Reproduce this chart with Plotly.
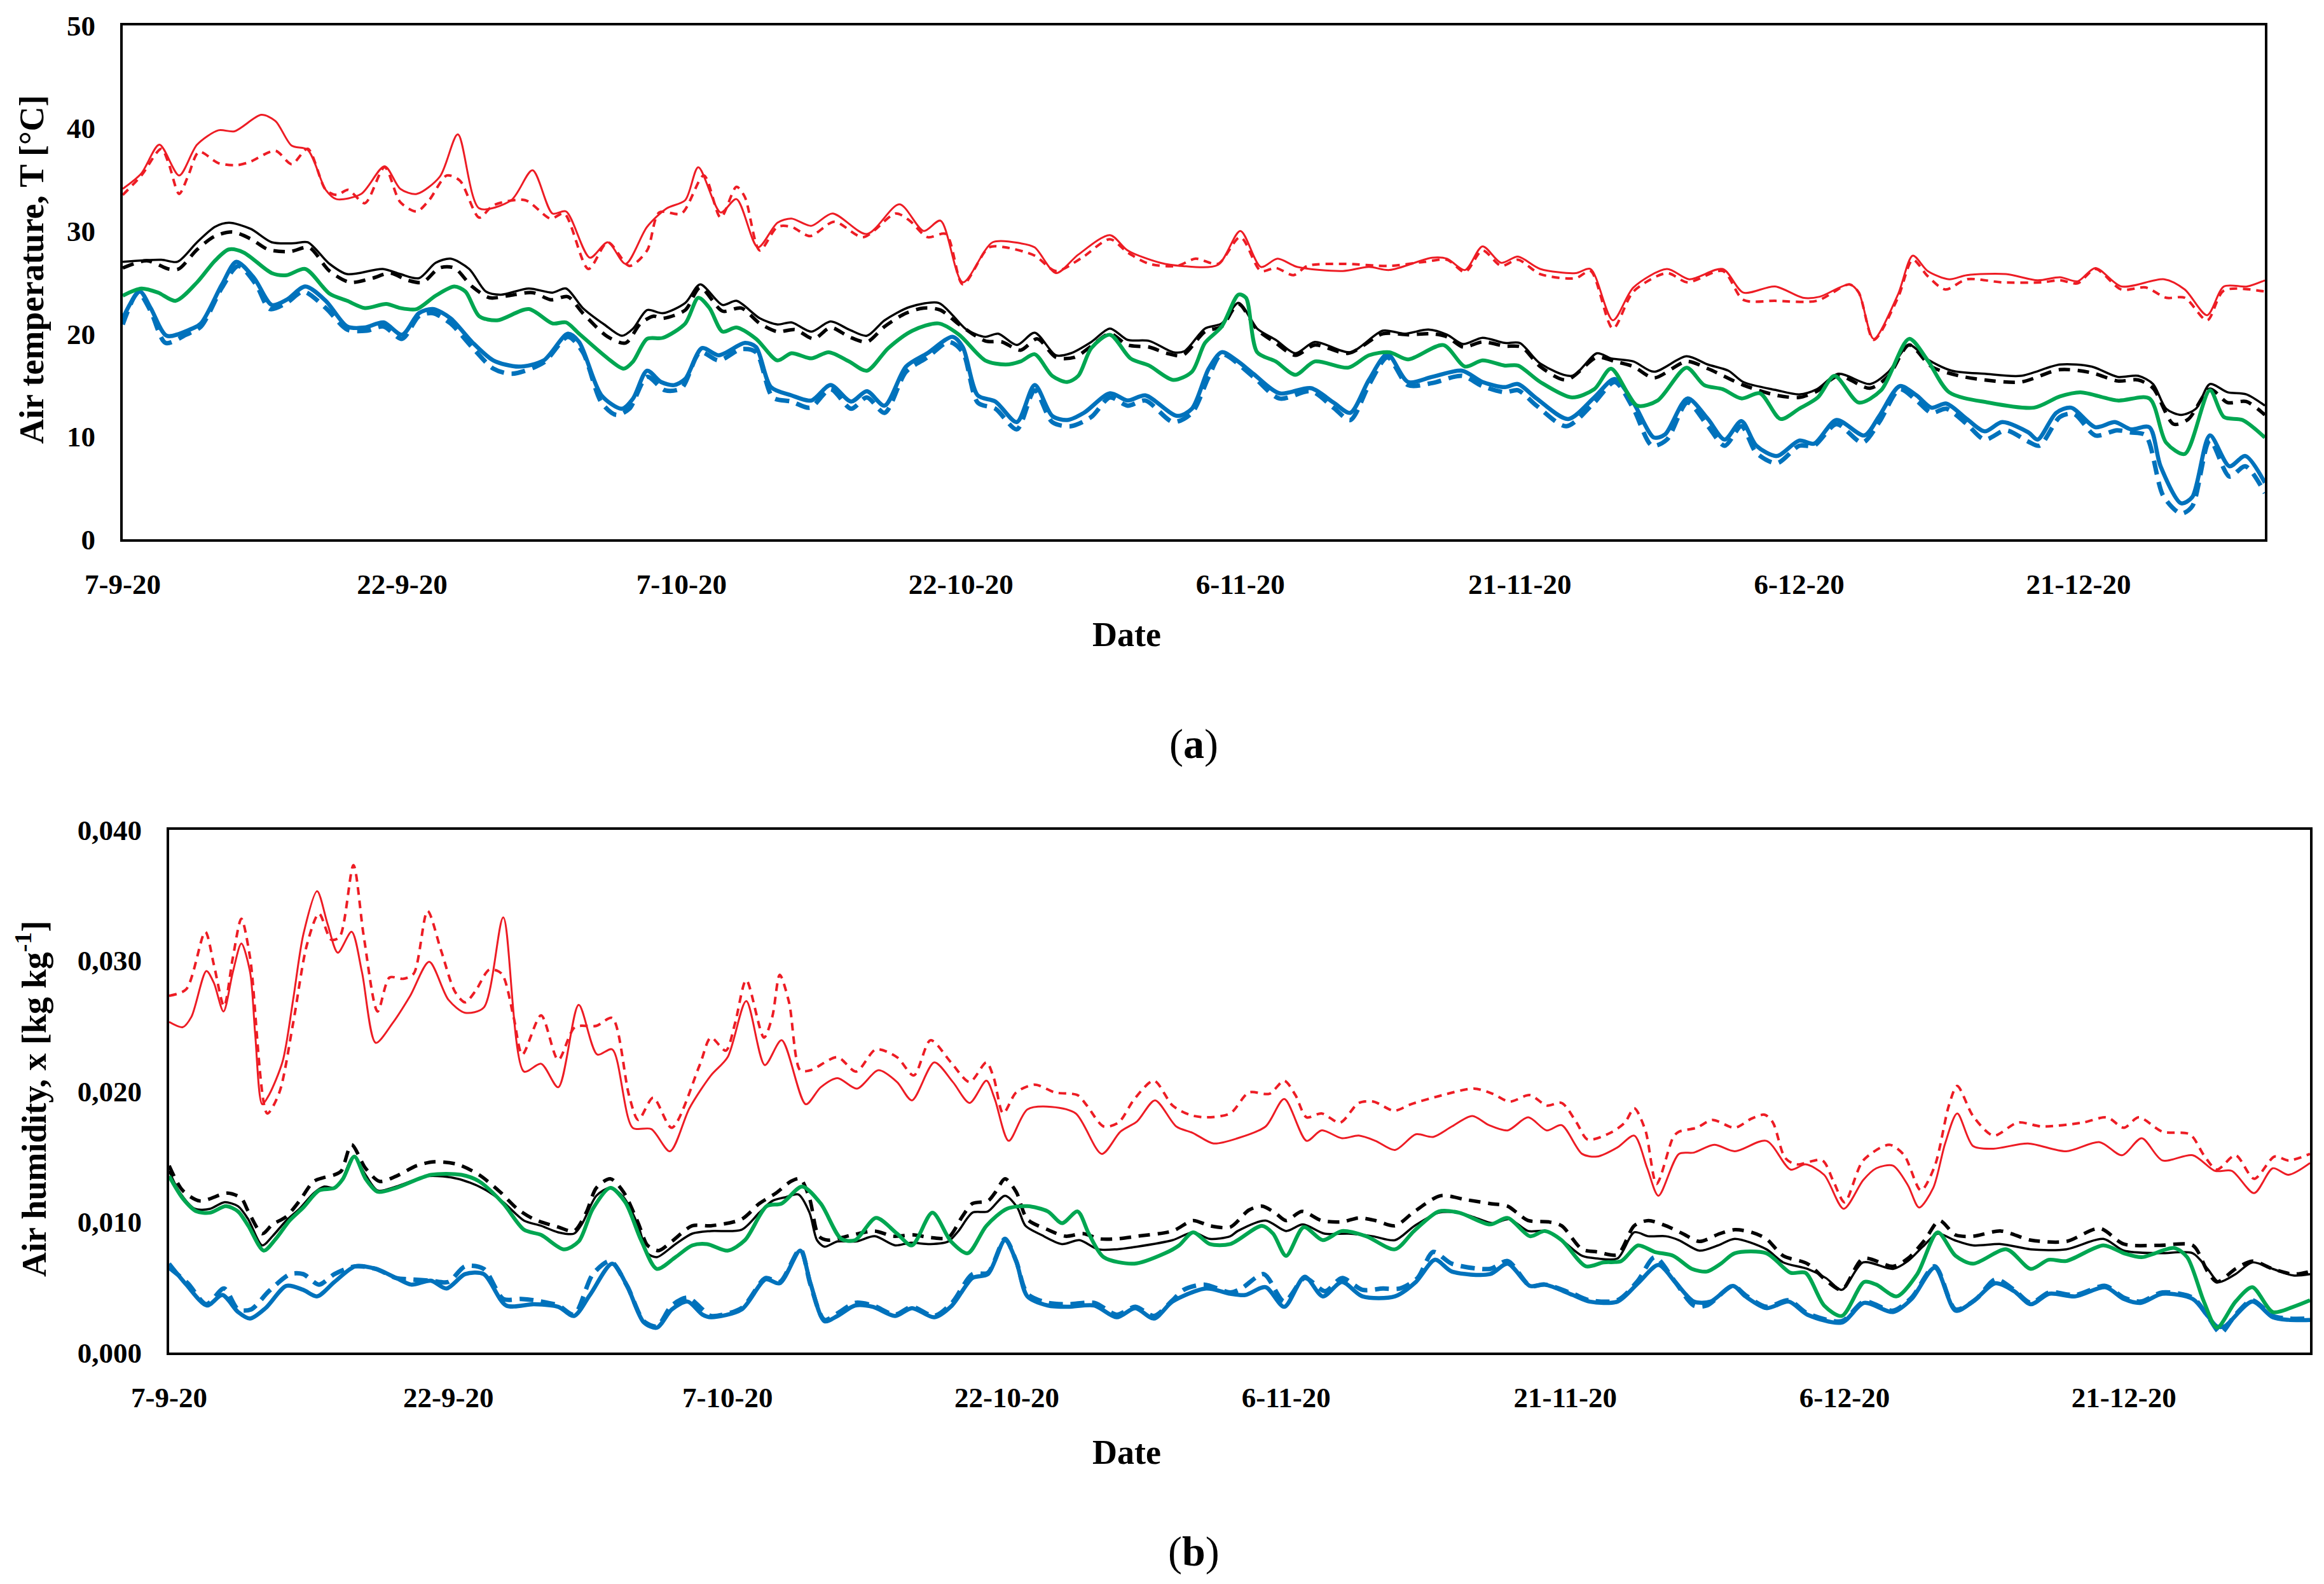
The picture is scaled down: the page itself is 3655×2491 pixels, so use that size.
import pandas as pd
import plotly.graph_objects as go

START = pd.Timestamp("2020-09-07")
END_DAY = 115
TICK_DAYS = [0, 15, 30, 45, 60, 75, 90, 105]
TICK_LABELS = ["7-9-20", "22-9-20", "7-10-20", "22-10-20", "6-11-20", "21-11-20", "6-12-20", "21-12-20"]
T_TICKS = [0, 10, 20, 30, 40, 50]
H_TICKS = [0.0, 0.01, 0.02, 0.03, 0.04]
H_TICK_LABELS = ["0,000", "0,010", "0,020", "0,030", "0,040"]

# (a) air temperature [degC]: (days since 7-9-20, value)
T_RED_SOLID = [
    (0, 34.1), (1.0, 35.6), (1.97, 38.4), (3.03, 35.4), (3.99, 38.4), (5.14, 39.8), (6.0, 39.7),
    (7.44, 41.3), (8.2, 40.7), (9.07, 38.3), (9.93, 37.9), (10.9, 34.0), (11.47, 33.1), (12.8, 33.6),
    (14.06, 36.3), (14.9, 34.1), (15.78, 33.6), (17.03, 35.3), (17.99, 39.4), (19.14, 32.2),
    (20.86, 33.0), (22.0, 35.9), (23.07, 31.7), (23.8, 31.9), (25.08, 27.4), (26.04, 28.9),
    (27.0, 26.8), (28.15, 30.4), (29.2, 32.2), (30.2, 33.0), (30.9, 36.2), (32.1, 31.8),
    (32.95, 33.1), (34.1, 28.4), (35.15, 30.8), (35.9, 31.2), (36.97, 30.5), (38.1, 31.7),
    (39.95, 29.7), (41.7, 32.6), (43.0, 30.0), (43.9, 31.0), (45.1, 25.0), (46.7, 28.9),
    (48.2, 28.8), (48.96, 28.4), (50.1, 25.9), (51.3, 27.7), (53.0, 29.6), (53.95, 28.1),
    (55.7, 26.9), (56.8, 26.6), (58.8, 26.7), (60.0, 30.0), (61.1, 26.5), (62.0, 27.3),
    (63.05, 26.5), (65.5, 26.1), (66.9, 26.5), (68.0, 26.2), (70.3, 27.4), (71.1, 27.3),
    (72.06, 26.2), (73.0, 28.5), (74.0, 26.9), (74.9, 27.5), (76.1, 26.3), (78.0, 25.9),
    (78.8, 26.3), (80.0, 21.3), (81.1, 24.5), (82.9, 26.3), (84.1, 25.3), (85.9, 26.3),
    (87.0, 24.0), (88.7, 24.6), (90.2, 23.5), (91.1, 23.6), (92.7, 24.8), (93.2, 24.0),
    (94.0, 19.5), (95.3, 23.8), (96.1, 27.6), (96.9, 26.1), (98.05, 25.3), (99.0, 25.7),
    (101.1, 25.8), (102.8, 25.2), (104.0, 25.5), (104.95, 25.1), (105.9, 26.4), (107.3, 24.6),
    (109.6, 25.3), (110.7, 24.3), (111.9, 21.8), (112.8, 24.6), (114.05, 24.6), (115.0, 25.2),
]
T_RED_DASH = [
    (0, 33.5), (1.0, 35.4), (2.07, 38.0), (2.46, 36.6), (3.03, 33.6), (3.5, 35.3), (4.1, 37.7),
    (5.14, 36.6), (6.1, 36.4), (6.8, 36.7), (8.2, 37.8), (9.07, 36.5), (9.93, 38.0), (10.9, 34.0),
    (11.5, 33.5), (12.1, 34.0), (13.0, 32.7), (14.06, 36.2), (14.9, 32.8), (15.78, 31.9),
    (16.45, 33.0), (17.4, 35.4), (18.1, 34.9), (19.14, 31.3), (19.9, 32.5), (21.6, 33.0),
    (22.97, 31.2), (23.7, 31.7), (25.0, 26.3), (26.04, 28.9), (27.2, 26.6), (28.15, 28.1),
    (28.8, 31.8), (30.0, 31.7), (31.2, 35.4), (32.1, 31.3), (32.95, 34.3), (33.4, 33.3),
    (34.2, 28.1), (35.15, 30.4), (35.9, 30.4), (36.9, 29.5), (38.2, 30.9), (39.75, 29.4),
    (41.5, 31.7), (42.25, 31.0), (43.2, 29.4), (44.2, 29.7), (45.1, 24.8), (46.5, 28.4),
    (47.4, 28.4), (48.96, 27.6), (50.1, 26.1), (51.5, 27.4), (53.0, 29.2), (53.95, 27.9),
    (55.1, 26.8), (56.6, 26.6), (57.6, 27.3), (58.8, 26.8), (60.0, 29.4), (61.1, 26.1),
    (61.9, 26.4), (62.85, 25.7), (63.6, 26.6), (65.5, 26.8), (68.0, 26.6), (69.9, 27.0),
    (71.1, 27.2), (72.06, 26.0), (73.0, 28.1), (74.0, 26.6), (74.9, 27.2), (76.1, 25.8),
    (78.0, 25.4), (78.8, 26.1), (80.0, 20.5), (81.1, 24.1), (82.9, 25.9), (84.0, 25.0),
    (85.9, 26.1), (87.0, 23.3), (88.7, 23.2), (90.95, 23.2), (92.7, 24.8), (93.2, 24.0),
    (94.0, 19.4), (95.3, 23.5), (96.1, 27.2), (96.9, 25.6), (97.85, 24.3), (99.0, 25.3),
    (100.9, 25.0), (103.0, 25.0), (104.0, 25.2), (104.95, 24.9), (105.9, 26.3), (107.3, 24.3),
    (108.6, 24.5), (109.7, 23.5), (110.7, 23.5), (111.9, 21.3), (112.8, 24.2), (115.0, 24.1),
]
T_BLACK_SOLID = [
    (0, 27.0), (2.07, 27.2), (2.94, 27.0), (3.99, 28.9), (4.95, 30.4), (5.7, 30.8), (6.87, 30.2),
    (8.0, 28.9), (9.2, 28.8), (9.93, 28.9), (11.1, 26.8), (12.05, 25.8), (13.96, 26.3),
    (14.9, 25.8), (15.9, 25.4), (16.8, 26.9), (17.6, 27.3), (18.6, 26.3), (19.5, 24.1),
    (20.3, 23.8), (21.8, 24.4), (23.07, 24.0), (23.8, 24.4), (24.7, 22.5), (25.85, 20.9),
    (26.8, 19.8), (27.4, 20.5), (28.15, 22.3), (29.0, 22.0), (30.2, 23.0), (31.0, 24.8),
    (32.2, 22.8), (32.95, 23.2), (34.2, 21.5), (35.15, 20.9), (35.9, 21.1), (36.97, 20.2),
    (38.0, 21.2), (39.0, 20.4), (39.95, 19.8), (40.9, 21.3), (42.25, 22.6), (43.8, 23.0),
    (44.55, 21.8), (45.3, 20.4), (46.3, 19.7), (47.0, 20.0), (48.0, 18.9), (48.96, 20.1),
    (50.1, 17.9), (50.9, 18.1), (52.0, 19.2), (53.0, 20.5), (53.95, 19.4), (55.1, 19.3),
    (56.4, 18.2), (57.0, 18.3), (58.1, 20.5), (59.0, 21.0), (59.9, 23.0), (60.9, 20.5),
    (61.9, 19.4), (62.95, 18.1), (64.0, 19.2), (65.9, 18.2), (67.65, 20.3), (68.8, 20.0),
    (70.1, 20.4), (71.1, 19.9), (71.96, 19.0), (73.0, 19.6), (74.2, 19.1), (75.0, 19.1),
    (76.1, 17.1), (77.8, 15.9), (79.15, 18.1), (79.9, 17.6), (81.1, 17.3), (82.2, 16.3),
    (83.95, 17.8), (85.1, 17.0), (86.2, 16.4), (87.0, 15.3), (88.8, 14.5), (90.0, 14.1),
    (90.95, 14.6), (92.1, 16.1), (93.8, 15.1), (94.8, 16.3), (95.9, 18.9), (96.9, 17.5),
    (98.2, 16.4), (99.96, 16.1), (101.9, 15.9), (104.0, 17.0), (105.7, 16.8), (107.1, 15.8),
    (108.2, 15.9), (109.0, 15.1), (109.7, 12.7), (110.5, 12.1), (111.3, 12.7), (112.05, 15.1),
    (113.0, 14.3), (114.0, 14.1), (115.0, 13.0),
]
T_BLACK_DASH = [
    (0, 26.4), (1.3, 27.1), (2.46, 26.3), (3.0, 26.3), (4.0, 28.2), (4.95, 29.5), (5.9, 29.9),
    (6.9, 29.2), (7.8, 28.2), (9.0, 28.0), (10.0, 28.4), (11.1, 26.1), (12.2, 25.0), (13.4, 25.4),
    (14.35, 25.9), (15.3, 25.2), (16.1, 25.0), (17.0, 26.4), (17.8, 26.4), (18.75, 24.6),
    (19.7, 23.5), (20.7, 23.7), (22.0, 24.0), (23.0, 23.3), (23.9, 23.6), (24.7, 22.0),
    (26.04, 19.7), (27.0, 19.1), (27.8, 21.0), (28.5, 21.7), (29.0, 21.5), (30.2, 22.3),
    (31.0, 24.5), (32.2, 22.2), (33.2, 22.5), (34.2, 21.0), (35.15, 20.2), (36.1, 20.4),
    (37.1, 19.5), (38.0, 20.6), (39.0, 19.7), (39.95, 19.2), (40.9, 20.7), (42.05, 22.0),
    (43.0, 22.5), (43.9, 22.3), (44.9, 20.9), (46.3, 19.3), (47.2, 19.2), (48.2, 18.4),
    (49.1, 19.5), (50.1, 17.7), (51.1, 17.7), (52.0, 18.8), (53.0, 20.0), (53.95, 18.9),
    (55.1, 18.7), (56.05, 18.1), (56.9, 17.9), (58.1, 20.2), (59.0, 20.7), (59.9, 22.9),
    (60.9, 20.4), (61.9, 19.1), (62.95, 17.9), (64.0, 18.9), (65.8, 18.1), (67.65, 20.0),
    (69.0, 19.9), (70.3, 20.0), (71.1, 19.7), (71.96, 18.7), (73.0, 19.2), (74.2, 18.8),
    (75.1, 18.7), (76.1, 16.8), (77.5, 15.5), (79.15, 17.7), (80.1, 17.3), (81.1, 16.8),
    (82.2, 15.7), (83.95, 17.3), (85.1, 16.6), (87.0, 15.0), (88.8, 14.0), (90.0, 13.8),
    (90.95, 14.4), (92.1, 15.9), (93.8, 14.7), (94.8, 15.9), (95.9, 18.9), (97.1, 16.8),
    (98.6, 15.9), (99.96, 15.5), (101.9, 15.3), (104.0, 16.5), (105.7, 16.2), (107.1, 15.4),
    (108.2, 15.5), (109.0, 14.7), (110.1, 11.2), (110.9, 11.7), (112.05, 14.6), (113.0, 13.3),
    (114.0, 13.4), (115.0, 12.1),
]
T_GREEN = [
    (0, 23.7), (1.0, 24.4), (1.9, 24.0), (2.84, 23.2), (3.99, 25.0), (4.95, 27.1), (5.7, 28.2),
    (6.5, 27.9), (8.0, 25.9), (8.8, 25.7), (9.8, 26.3), (11.1, 23.9), (12.05, 23.2), (13.0, 22.5),
    (14.15, 22.9), (14.9, 22.5), (15.78, 22.4), (16.8, 23.7), (17.8, 24.6), (18.4, 24.1),
    (19.14, 21.7), (20.1, 21.3), (21.8, 22.4), (23.07, 21.0), (23.8, 21.1), (24.5, 20.0),
    (26.04, 17.6), (26.9, 16.6), (27.4, 17.3), (28.15, 19.5), (29.0, 19.6), (30.2, 21.0),
    (30.9, 23.5), (31.5, 22.5), (32.2, 20.2), (32.95, 20.6), (34.0, 19.5), (35.15, 17.4),
    (35.9, 18.1), (36.97, 17.6), (37.9, 18.2), (39.0, 17.3), (39.95, 16.4), (41.1, 18.6),
    (42.4, 20.3), (43.8, 21.0), (44.9, 19.9), (46.3, 17.4), (47.4, 17.0), (48.2, 17.3),
    (48.96, 18.0), (49.9, 15.9), (50.7, 15.3), (51.3, 15.9), (52.0, 18.6), (53.0, 19.9),
    (54.1, 17.6), (55.1, 16.9), (56.4, 15.5), (57.4, 16.3), (58.1, 19.1), (59.0, 20.7),
    (59.9, 23.8), (60.3, 23.5), (60.9, 18.2), (61.9, 17.3), (62.95, 16.0), (64.0, 17.3),
    (65.8, 16.7), (66.9, 17.9), (68.0, 18.2), (69.0, 17.5), (70.9, 18.9), (72.06, 16.8),
    (73.0, 17.4), (74.2, 16.9), (74.9, 16.9), (76.1, 15.3), (77.8, 13.8), (79.0, 14.6),
    (79.9, 16.6), (81.3, 13.0), (82.4, 13.5), (83.95, 16.7), (84.9, 15.0), (85.9, 14.6),
    (86.9, 13.7), (87.9, 14.2), (89.0, 11.7), (90.0, 12.7), (91.0, 13.8), (91.9, 15.9),
    (93.2, 13.3), (94.4, 14.5), (95.9, 19.5), (96.9, 17.4), (98.05, 14.3), (100.15, 13.3),
    (102.6, 12.8), (104.0, 13.9), (105.1, 14.3), (107.1, 13.5), (108.8, 13.7), (109.7, 9.4),
    (110.7, 8.3), (112.05, 14.5), (112.8, 11.9), (113.8, 11.6), (115.0, 9.9),
]
T_BLUE_SOLID = [
    (0, 21.5), (0.92, 24.1), (1.5, 22.5), (2.36, 19.8), (3.6, 20.4), (4.2, 21.0), (5.33, 24.8),
    (6.1, 27.0), (7.06, 25.4), (8.0, 22.8), (8.8, 23.3), (9.8, 24.6), (10.9, 23.2), (12.05, 20.7),
    (13.0, 20.6), (14.0, 21.1), (15.0, 19.9), (15.9, 22.0), (16.65, 22.4), (17.6, 21.5),
    (18.75, 19.2), (19.9, 17.4), (21.25, 16.8), (22.6, 17.4), (23.9, 20.0), (24.5, 19.2),
    (25.7, 14.0), (26.8, 12.7), (27.4, 13.7), (28.15, 16.4), (28.9, 15.3), (29.6, 15.0),
    (30.2, 15.6), (31.1, 18.6), (32.0, 17.9), (33.4, 19.1), (34.0, 18.7), (34.8, 14.8),
    (35.9, 14.0), (36.97, 13.5), (38.0, 15.0), (39.1, 13.4), (39.95, 14.4), (40.9, 13.0),
    (42.05, 16.8), (43.2, 18.1), (44.55, 19.7), (45.1, 18.7), (45.9, 14.0), (46.85, 13.4),
    (48.0, 11.4), (48.96, 15.0), (49.9, 12.0), (50.7, 11.6), (51.6, 12.3), (53.0, 14.2),
    (53.95, 13.5), (54.9, 14.0), (56.6, 12.0), (57.4, 12.7), (58.3, 16.6), (59.0, 18.2),
    (59.8, 17.4), (60.7, 16.1), (62.1, 14.2), (63.8, 14.7), (65.0, 13.3), (65.9, 12.3),
    (66.9, 15.5), (67.9, 18.0), (69.0, 15.3), (70.3, 15.8), (71.9, 16.4), (73.0, 15.3),
    (74.2, 14.8), (74.9, 15.1), (75.9, 13.7), (77.6, 11.7), (79.0, 13.8), (80.1, 15.6),
    (81.1, 13.3), (82.2, 9.9), (82.8, 10.2), (84.0, 13.7), (85.1, 11.7), (86.0, 9.7),
    (86.9, 11.5), (87.7, 9.1), (88.8, 8.1), (90.0, 9.6), (90.8, 9.3), (92.0, 11.6), (93.5, 10.1),
    (94.3, 12.0), (95.4, 14.9), (96.3, 14.0), (97.1, 12.8), (97.9, 13.2), (99.0, 11.7),
    (99.96, 10.5), (100.9, 11.4), (102.3, 10.4), (102.8, 9.7), (103.8, 12.3), (104.6, 12.8),
    (105.9, 10.9), (106.95, 11.4), (107.8, 10.7), (108.8, 10.9), (109.4, 7.1), (110.5, 3.5),
    (111.1, 4.1), (112.05, 10.1), (113.1, 7.1), (113.95, 8.1), (115.0, 5.5),
]
T_BLUE_DASH = [
    (0, 20.9), (0.83, 24.0), (1.5, 22.2), (2.3, 19.1), (3.4, 19.9), (4.2, 20.7), (5.33, 24.5),
    (6.2, 26.6), (7.15, 24.8), (7.9, 22.4), (8.8, 23.0), (9.7, 24.1), (10.9, 22.5), (12.05, 20.4),
    (13.1, 20.3), (14.0, 20.7), (15.0, 19.5), (15.9, 21.7), (16.65, 22.0), (17.6, 21.0),
    (18.75, 18.7), (19.9, 16.6), (20.9, 16.1), (22.6, 17.2), (23.9, 19.7), (24.7, 18.2),
    (25.7, 13.3), (26.5, 12.1), (27.2, 12.7), (28.15, 15.8), (29.1, 14.5), (30.0, 14.7),
    (31.0, 18.2), (32.0, 17.4), (33.2, 18.5), (34.0, 18.2), (34.9, 13.8), (35.9, 13.4),
    (36.9, 12.8), (38.0, 14.6), (39.1, 12.7), (39.95, 13.8), (40.9, 12.3), (42.05, 16.3),
    (43.2, 17.7), (44.35, 19.2), (45.1, 18.2), (45.9, 13.3), (46.85, 12.7), (48.0, 10.7),
    (48.96, 14.5), (49.9, 11.4), (50.9, 11.0), (52.0, 11.9), (53.0, 13.8), (53.95, 13.0),
    (54.9, 13.5), (56.4, 11.4), (57.4, 12.3), (58.3, 15.8), (59.0, 18.0), (60.7, 15.8),
    (62.1, 13.7), (63.8, 14.4), (65.0, 12.8), (65.9, 11.6), (66.9, 15.0), (67.9, 17.7),
    (69.0, 15.0), (70.3, 15.2), (71.9, 15.9), (73.0, 14.9), (74.2, 14.3), (74.9, 14.5),
    (75.9, 13.0), (77.5, 11.0), (79.0, 13.3), (80.1, 15.3), (81.1, 12.7), (82.1, 9.1),
    (82.9, 9.7), (84.0, 13.3), (85.1, 11.0), (86.0, 9.1), (86.9, 11.0), (87.7, 8.4), (88.8, 7.4),
    (90.0, 9.1), (90.8, 9.1), (92.0, 11.2), (93.4, 9.4), (94.3, 11.4), (95.4, 14.6), (96.3, 13.5),
    (97.1, 12.3), (97.9, 12.7), (99.0, 11.2), (99.96, 9.7), (101.1, 10.6), (102.3, 9.5),
    (102.9, 9.1), (104.0, 11.9), (104.75, 12.2), (105.9, 10.1), (107.05, 10.6), (107.8, 10.4),
    (108.6, 10.1), (109.55, 4.2), (110.5, 2.5), (111.1, 3.2), (112.05, 9.6), (113.1, 6.1),
    (113.95, 7.1), (115.0, 4.5),
]

# (b) air humidity, read in g/kg: (days since 7-9-20, value)
H_RED_SOLID = [
    (0, 25.3), (0.73, 24.9), (1.2, 25.7), (2.0, 29.2), (2.4, 28.3), (2.92, 26.1), (3.42, 29.1),
    (3.88, 31.3), (4.35, 29.1), (4.62, 24.4), (5.0, 19.0), (5.36, 19.7), (6.1, 22.3), (6.66, 27.0),
    (7.21, 32.0), (7.95, 35.3), (8.51, 32.8), (9.06, 30.6), (9.8, 32.2), (10.36, 29.1),
    (11.1, 23.7), (12.0, 25.2), (12.95, 27.3), (13.97, 29.9), (15.0, 27.0), (15.9, 26.0),
    (16.9, 26.4), (17.95, 33.3), (19.06, 21.5), (19.98, 22.1), (20.9, 20.3), (22.0, 26.6),
    (23.0, 22.8), (23.8, 23.2), (24.9, 17.2), (25.9, 17.1), (26.9, 15.4), (27.95, 18.7),
    (29.1, 21.2), (30.0, 22.6), (31.0, 26.9), (32.0, 22.0), (32.9, 23.9), (34.2, 19.0),
    (35.0, 20.3), (35.9, 21.0), (36.95, 20.2), (38.1, 21.6), (39.1, 20.7), (39.9, 19.3),
    (41.1, 22.2), (42.1, 20.7), (43.0, 19.1), (43.9, 20.8), (44.35, 19.4), (45.1, 16.2),
    (46.1, 18.6), (47.4, 18.8), (48.7, 18.3), (50.1, 15.2), (51.1, 16.9), (52.0, 17.7),
    (52.96, 19.3), (54.1, 17.3), (55.0, 16.8), (56.1, 16.0), (57.4, 16.4), (58.9, 17.3),
    (59.9, 19.4), (61.1, 16.2), (61.9, 17.0), (63.0, 16.4), (63.9, 16.6), (64.8, 16.2),
    (65.85, 15.5), (66.97, 16.7), (67.9, 16.5), (68.9, 17.3), (70.0, 18.1), (70.9, 17.4),
    (71.9, 17.0), (73.0, 18.0), (74.0, 17.0), (74.8, 17.4), (75.9, 15.2), (76.7, 15.0),
    (77.8, 15.7), (78.7, 16.6), (79.4, 14.1), (80.0, 12.0), (81.1, 15.2), (81.9, 15.3),
    (83.0, 15.9), (84.1, 15.4), (85.8, 16.2), (87.1, 14.0), (87.9, 14.4), (88.9, 13.6),
    (89.95, 11.0), (91.0, 13.2), (91.7, 14.1), (92.6, 14.3), (93.4, 12.8), (94.0, 11.1),
    (94.76, 12.6), (95.4, 16.0), (96.05, 18.3), (96.9, 15.8), (98.0, 15.6), (99.85, 16.0),
    (101.9, 15.4), (103.7, 16.1), (104.9, 15.1), (105.96, 16.4), (107.07, 14.7), (108.7, 15.1),
    (109.9, 13.9), (110.8, 13.9), (112.0, 12.2), (113.0, 14.1), (113.85, 13.6), (115.0, 14.5),
]
H_RED_DASH = [
    (0, 27.3), (0.92, 27.8), (1.94, 32.2), (2.4, 29.7), (2.95, 26.5), (3.42, 30.2), (3.88, 33.2),
    (4.35, 30.2), (5.27, 18.3), (5.92, 19.9), (6.66, 25.2), (7.4, 31.2), (8.05, 33.6), (8.7, 31.6),
    (9.16, 31.8), (9.9, 37.3), (10.45, 31.9), (11.2, 26.1), (11.84, 28.7), (12.58, 28.6),
    (13.14, 29.0), (13.88, 33.8), (14.6, 30.8), (15.36, 27.6), (15.9, 26.8), (16.47, 27.7),
    (17.2, 29.3), (17.86, 29.0), (18.5, 25.7), (18.97, 22.8), (19.98, 25.8), (20.9, 22.4),
    (21.8, 24.9), (22.95, 25.0), (23.8, 25.6), (24.7, 19.7), (25.2, 17.8), (26.0, 19.5),
    (27.0, 17.2), (28.5, 22.0), (29.1, 24.1), (29.9, 23.1), (30.4, 25.2), (31.0, 28.5),
    (31.95, 24.1), (32.4, 25.7), (32.8, 28.9), (33.3, 26.8), (33.9, 21.6), (34.45, 21.6),
    (35.9, 22.6), (36.9, 21.5), (37.97, 23.2), (39.1, 22.6), (40.0, 21.2), (40.9, 23.9),
    (42.0, 22.2), (43.0, 20.7), (43.9, 22.2), (44.3, 21.0), (44.8, 18.3), (45.5, 19.9),
    (46.5, 20.5), (47.6, 19.9), (48.8, 19.7), (49.3, 18.9), (50.2, 17.3), (51.0, 17.6),
    (51.85, 19.4), (52.9, 20.8), (53.9, 18.9), (54.8, 18.2), (55.7, 18.0), (57.0, 18.3),
    (58.0, 19.9), (59.1, 19.8), (59.9, 20.8), (60.5, 19.7), (61.1, 18.0), (61.9, 18.3),
    (62.9, 17.6), (63.9, 19.1), (64.7, 19.2), (65.8, 18.5), (66.7, 19.0), (68.4, 19.7),
    (70.1, 20.2), (71.1, 19.8), (72.0, 19.2), (73.1, 19.7), (74.0, 18.9), (74.8, 19.1),
    (75.6, 17.6), (76.2, 16.3), (77.4, 16.8), (78.2, 17.6), (78.7, 18.7), (79.3, 17.0),
    (79.9, 12.9), (80.8, 16.5), (81.1, 16.9), (82.05, 17.2), (82.9, 17.8), (84.1, 17.2),
    (85.0, 17.9), (85.7, 18.2), (86.15, 17.6), (86.8, 14.9), (87.4, 14.4), (88.8, 14.7),
    (89.4, 13.1), (90.0, 11.5), (91.0, 14.7), (92.4, 15.9), (93.2, 15.1), (94.1, 12.4),
    (94.85, 14.3), (95.6, 18.9), (96.05, 20.4), (96.9, 18.1), (98.0, 16.6), (99.3, 17.6),
    (100.6, 17.3), (102.8, 17.6), (104.1, 18.0), (105.0, 17.2), (105.8, 18.0), (107.07, 16.9),
    (108.55, 16.7), (109.3, 15.1), (110.0, 14.0), (111.0, 15.1), (112.0, 13.3), (113.1, 15.0),
    (113.85, 14.7), (115.0, 15.2),
]
H_BLACK_SOLID = [
    (0, 13.9), (0.55, 12.3), (1.38, 11.0), (2.2, 11.0), (2.96, 11.5), (3.7, 11.2), (4.25, 10.2),
    (5.0, 8.2), (5.55, 8.9), (6.29, 10.1), (7.0, 11.0), (7.77, 12.2), (8.33, 12.7), (8.88, 12.6),
    (9.25, 13.1), (9.9, 15.0), (10.55, 13.6), (11.2, 12.4), (12.2, 12.7), (13.9, 13.5),
    (15.5, 13.3), (16.8, 12.6), (17.95, 11.5), (19.06, 10.1), (19.98, 9.7), (20.9, 9.2),
    (21.75, 9.1), (22.2, 9.9), (22.95, 12.0), (23.7, 12.6), (24.4, 11.9), (25.2, 9.7),
    (25.7, 7.6), (26.2, 7.3), (27.2, 8.3), (28.1, 9.1), (29.1, 9.3), (30.75, 9.4), (31.7, 10.7),
    (32.4, 11.6), (33.15, 11.9), (33.8, 12.1), (34.4, 10.7), (34.8, 8.6), (35.2, 8.1),
    (35.9, 8.5), (36.9, 8.5), (37.9, 8.9), (39.0, 8.2), (39.8, 8.4), (40.9, 8.3), (41.85, 8.5),
    (42.4, 9.3), (43.15, 10.7), (43.98, 10.8), (44.9, 12.0), (45.56, 11.1), (46.0, 9.7),
    (46.85, 9.0), (47.96, 8.3), (48.9, 8.6), (49.9, 7.9), (50.9, 7.9), (52.0, 8.1), (53.9, 8.6),
    (55.0, 9.2), (55.9, 8.7), (57.0, 8.9), (57.4, 9.3), (58.9, 10.1), (60.0, 9.3), (60.9, 9.8),
    (62.06, 9.1), (63.35, 9.1), (64.65, 8.9), (65.85, 8.6), (66.9, 9.7), (68.2, 10.7),
    (69.3, 10.7), (70.2, 10.3), (71.1, 9.9), (72.0, 10.2), (73.0, 9.3), (73.9, 9.3), (74.8, 8.6),
    (75.9, 7.4), (76.7, 7.2), (77.8, 7.2), (78.7, 9.2), (79.46, 8.9), (80.4, 8.9), (81.1, 8.6),
    (82.2, 7.8), (83.2, 8.2), (84.1, 8.7), (85.8, 7.9), (86.7, 6.9), (88.0, 6.4), (89.0, 5.7),
    (89.85, 4.8), (91.0, 6.9), (92.6, 6.4), (93.4, 7.0), (94.2, 8.1), (95.0, 9.1), (95.9, 8.6),
    (96.9, 8.2), (98.4, 8.3), (100.0, 7.9), (101.9, 7.9), (103.9, 8.7), (105.0, 7.8),
    (106.9, 7.6), (108.7, 7.6), (109.5, 6.4), (110.1, 5.4), (111.0, 6.0), (111.9, 6.9),
    (113.0, 6.4), (114.1, 5.9), (115.0, 6.0),
]
H_BLACK_DASH = [
    (0, 14.3), (0.73, 12.4), (1.66, 11.6), (3.14, 12.2), (3.88, 11.8), (4.25, 10.8), (5.0, 9.1),
    (5.55, 9.8), (6.29, 10.4), (7.0, 11.6), (7.77, 13.1), (8.33, 13.4), (8.88, 13.6), (9.25, 13.9),
    (9.8, 15.9), (10.55, 14.1), (11.3, 13.1), (12.2, 13.5), (13.3, 14.3), (14.25, 14.6),
    (15.5, 14.4), (16.65, 13.6), (17.77, 12.3), (18.7, 11.0), (19.6, 10.2), (20.9, 9.6),
    (21.75, 9.3), (22.4, 10.7), (22.95, 12.6), (23.7, 13.3), (24.4, 12.3), (25.2, 9.9),
    (25.7, 8.2), (26.3, 7.8), (27.0, 8.5), (28.1, 9.7), (29.1, 9.7), (30.75, 10.2), (31.7, 11.4),
    (32.6, 12.2), (33.4, 13.1), (33.9, 13.3), (34.4, 11.8), (34.9, 8.9), (35.4, 8.6), (36.7, 9.0),
    (37.9, 9.3), (38.9, 8.9), (40.0, 9.0), (40.9, 8.8), (41.85, 8.8), (42.6, 10.4), (43.15, 11.4),
    (43.98, 11.6), (44.4, 12.3), (44.9, 13.3), (45.5, 12.3), (46.1, 10.2), (47.2, 9.4),
    (48.15, 8.9), (49.1, 9.1), (50.0, 8.7), (50.9, 8.7), (52.0, 8.9), (53.9, 9.3), (55.0, 10.1),
    (55.9, 9.7), (57.0, 9.6), (58.0, 10.9), (58.7, 11.2), (59.4, 10.7), (60.0, 10.1),
    (60.85, 10.8), (61.9, 10.1), (63.0, 10.0), (63.9, 10.3), (64.8, 10.1), (65.85, 9.7),
    (66.9, 10.8), (68.3, 12.0), (69.65, 11.7), (70.95, 11.4), (71.9, 11.2), (72.4, 10.7),
    (73.0, 10.1), (74.1, 10.0), (74.8, 9.7), (75.9, 7.9), (76.7, 7.7), (77.8, 7.5), (78.7, 9.7),
    (79.46, 10.1), (80.4, 9.7), (81.3, 9.1), (82.2, 8.5), (83.3, 9.1), (84.1, 9.4), (85.0, 9.2),
    (85.8, 8.7), (86.7, 7.4), (88.0, 6.8), (89.1, 5.4), (89.85, 4.8), (91.0, 7.2), (92.6, 6.6),
    (93.4, 7.2), (94.3, 8.6), (95.1, 10.1), (95.95, 9.0), (96.9, 8.9), (98.4, 9.3), (100.0, 8.6),
    (101.9, 8.5), (103.7, 9.5), (105.0, 8.3), (106.9, 8.2), (108.7, 8.2), (109.5, 6.2),
    (110.0, 5.4), (111.0, 6.4), (111.9, 7.0), (113.0, 6.4), (114.1, 6.0), (115.0, 6.2),
]
H_GREEN = [
    (0, 13.5), (0.73, 11.8), (1.47, 10.8), (2.2, 10.7), (3.05, 11.2), (3.7, 10.8), (4.25, 9.7),
    (5.08, 7.8), (5.73, 8.7), (6.47, 10.1), (7.21, 11.1), (8.05, 12.4), (8.88, 12.6), (9.34, 13.3),
    (9.95, 15.0), (10.55, 13.3), (11.2, 12.3), (12.2, 12.6), (14.06, 13.6), (15.7, 13.6),
    (16.65, 13.1), (17.95, 11.4), (19.06, 9.4), (19.98, 9.0), (21.2, 7.9), (22.0, 8.5),
    (22.76, 11.0), (23.7, 12.6), (24.5, 11.5), (25.35, 8.6), (26.2, 6.4), (27.2, 7.3),
    (28.1, 8.2), (28.9, 8.3), (30.0, 7.8), (30.93, 8.6), (32.1, 11.2), (32.9, 11.4), (34.0, 12.7),
    (35.0, 11.4), (36.1, 8.7), (36.85, 8.6), (37.97, 10.3), (39.1, 9.1), (39.9, 8.2), (41.0, 10.7),
    (42.0, 8.5), (42.9, 7.6), (43.9, 9.7), (45.0, 11.0), (46.1, 11.2), (47.2, 10.8), (47.96, 9.9),
    (48.8, 10.8), (49.4, 9.1), (50.2, 7.3), (51.85, 6.8), (53.5, 7.6), (54.25, 8.2), (55.0, 9.2),
    (55.9, 8.3), (57.0, 8.3), (58.7, 9.7), (59.3, 9.1), (60.0, 7.4), (60.95, 9.6), (61.97, 8.6),
    (63.0, 9.3), (64.3, 8.9), (65.85, 7.9), (66.87, 9.3), (68.2, 10.8), (69.3, 10.7),
    (70.95, 9.8), (71.9, 10.3), (73.1, 8.9), (73.9, 9.3), (74.8, 8.6), (76.1, 6.6), (77.05, 6.9),
    (78.0, 7.0), (78.9, 8.2), (79.8, 7.7), (80.8, 7.4), (81.8, 6.4), (82.6, 6.2), (83.35, 6.8),
    (84.1, 7.6), (85.8, 7.6), (87.1, 6.1), (87.9, 6.1), (88.9, 3.6), (89.85, 2.8), (91.05, 5.4),
    (91.7, 5.2), (92.8, 4.3), (93.9, 6.0), (95.0, 9.2), (95.96, 7.4), (96.9, 6.8), (98.7, 7.9),
    (100.0, 6.4), (100.96, 7.1), (101.9, 7.0), (103.9, 8.2), (105.0, 7.6), (105.96, 7.3),
    (107.7, 8.0), (108.4, 7.3), (109.3, 3.9), (110.0, 1.9), (111.0, 3.9), (111.9, 5.0),
    (113.0, 3.1), (114.1, 3.5), (115.0, 4.0),
]
H_BLUE_SOLID = [
    (0, 6.8), (0.92, 5.2), (2.03, 3.6), (2.86, 4.4), (3.7, 3.1), (4.34, 2.6), (5.18, 3.4),
    (6.3, 5.1), (7.2, 4.8), (7.95, 4.3), (8.88, 5.4), (10.0, 6.6), (11.1, 6.4), (12.2, 5.7),
    (13.0, 5.2), (14.06, 5.5), (14.9, 4.9), (15.9, 6.0), (16.9, 6.0), (18.1, 3.6), (19.6, 3.7),
    (20.9, 3.5), (21.75, 2.8), (22.6, 4.4), (23.8, 6.8), (24.6, 5.1), (25.5, 2.3), (26.2, 1.9),
    (27.0, 3.3), (27.85, 3.9), (28.65, 2.9), (29.1, 2.7), (30.75, 3.3), (32.04, 5.6), (32.8, 5.3),
    (33.9, 7.8), (34.45, 5.3), (35.2, 2.4), (35.9, 2.8), (36.85, 3.6), (37.8, 3.5), (39.0, 2.8),
    (39.9, 3.4), (41.1, 2.7), (42.05, 3.6), (43.15, 5.7), (43.98, 6.0), (44.9, 8.6), (45.5, 7.0),
    (46.1, 4.3), (47.2, 3.6), (48.3, 3.5), (49.7, 3.6), (50.9, 2.7), (51.9, 3.4), (52.9, 2.6),
    (53.9, 3.9), (55.7, 4.9), (57.0, 4.5), (57.8, 4.4), (58.9, 5.0), (59.9, 3.5), (61.0, 5.8),
    (61.97, 4.3), (63.0, 5.4), (64.1, 4.3), (65.85, 4.3), (66.97, 5.4), (68.0, 7.1), (68.9, 6.2),
    (70.95, 6.0), (71.9, 6.8), (73.1, 5.1), (73.9, 5.2), (75.4, 4.4), (76.3, 3.9), (77.8, 3.9),
    (78.9, 5.3), (80.0, 6.7), (80.9, 5.4), (81.9, 3.9), (82.8, 3.9), (84.0, 5.1), (84.67, 4.3),
    (85.8, 3.4), (87.0, 3.9), (88.0, 2.9), (89.85, 2.3), (91.05, 3.8), (92.6, 3.1), (93.6, 4.1),
    (94.85, 6.5), (95.96, 3.2), (96.9, 3.9), (98.1, 5.3), (99.1, 4.7), (100.0, 3.7), (101.0, 4.5),
    (102.4, 4.3), (104.0, 5.0), (105.0, 4.1), (105.9, 3.8), (107.07, 4.5), (108.7, 4.1),
    (109.5, 2.8), (110.0, 2.0), (110.4, 2.0), (111.9, 3.9), (113.0, 2.7), (113.85, 2.5),
    (115.0, 2.5),
]
H_BLUE_DASH = [
    (0, 6.5), (1.0, 5.3), (2.0, 3.7), (2.95, 4.9), (3.7, 3.3), (4.4, 3.3), (5.36, 4.7), (6.5, 6.0),
    (7.2, 6.0), (8.05, 5.2), (8.88, 6.0), (10.0, 6.6), (11.1, 6.4), (12.2, 5.7), (13.0, 5.6),
    (14.06, 5.5), (15.0, 5.4), (15.9, 6.6), (16.9, 6.4), (17.95, 4.1), (18.9, 4.1), (19.6, 4.0),
    (20.9, 3.6), (21.75, 2.9), (22.76, 6.0), (23.7, 7.0), (24.6, 5.1), (25.5, 2.4), (26.2, 2.0),
    (27.0, 3.6), (27.85, 4.2), (28.65, 3.3), (29.1, 2.8), (30.75, 3.4), (32.04, 5.7), (32.8, 5.4),
    (33.9, 7.9), (34.45, 5.2), (35.2, 2.5), (35.9, 3.0), (36.85, 3.8), (37.8, 3.6), (39.0, 2.9),
    (39.9, 3.5), (41.1, 2.8), (42.05, 3.8), (43.15, 6.0), (43.98, 6.1), (44.9, 8.7), (45.5, 7.0),
    (46.1, 4.5), (47.2, 3.8), (48.3, 3.7), (49.7, 3.8), (50.9, 2.9), (51.9, 3.5), (52.9, 2.8),
    (53.9, 4.0), (54.5, 4.8), (55.6, 5.2), (57.0, 4.6), (57.6, 4.9), (58.8, 6.0), (59.9, 3.9),
    (61.0, 5.7), (62.1, 4.7), (63.0, 5.7), (64.1, 4.8), (65.2, 4.9), (66.1, 4.9), (67.06, 5.7),
    (67.9, 7.7), (68.9, 6.8), (70.95, 6.4), (71.9, 7.0), (73.1, 5.1), (73.9, 5.2), (75.4, 4.5),
    (76.3, 4.0), (77.8, 4.0), (78.9, 5.5), (79.8, 7.3), (80.9, 5.4), (81.9, 3.6), (82.6, 3.6),
    (84.0, 5.1), (84.67, 4.4), (85.8, 3.5), (87.0, 4.0), (88.0, 3.0), (89.85, 2.4), (91.05, 3.9),
    (92.6, 3.2), (93.6, 4.2), (94.85, 6.6), (95.96, 3.3), (97.07, 4.1), (98.1, 5.6), (99.1, 4.8),
    (100.0, 3.8), (101.0, 4.6), (102.4, 4.4), (104.0, 5.1), (105.0, 4.2), (105.9, 3.9),
    (107.07, 4.6), (108.7, 4.2), (109.5, 2.8), (110.2, 1.5), (111.0, 2.9), (111.9, 4.0),
    (113.0, 2.8), (113.85, 2.6), (115.0, 2.6),
]

RED = "#ED1C24"
BLACK = "#000000"
GREEN = "#00A651"
BLUE = "#0072BC"
FONT = "Liberation Serif, Times New Roman, serif"

STYLES = {
    "black_solid": dict(color=BLACK, width=3.5, dash="solid"),
    "black_dash": dict(color=BLACK, width=5.5, dash="18px,12px"),
    "red_solid": dict(color=RED, width=3, dash="solid"),
    "red_dash": dict(color=RED, width=4, dash="12px,9px"),
    "blue_dash": dict(color=BLUE, width=7, dash="22px,12px"),
    "blue_solid": dict(color=BLUE, width=6.5, dash="solid"),
    "green": dict(color=GREEN, width=6, dash="solid"),
}

TOP_SERIES = [
    ("black_solid", T_BLACK_SOLID), ("black_dash", T_BLACK_DASH), ("red_solid", T_RED_SOLID),
    ("red_dash", T_RED_DASH), ("blue_dash", T_BLUE_DASH), ("blue_solid", T_BLUE_SOLID),
    ("green", T_GREEN),
]
BOTTOM_SERIES = [
    ("black_solid", H_BLACK_SOLID), ("black_dash", H_BLACK_DASH), ("red_solid", H_RED_SOLID),
    ("red_dash", H_RED_DASH), ("blue_dash", H_BLUE_DASH), ("blue_solid", H_BLUE_SOLID),
    ("green", H_GREEN),
]


def to_xy(points, scale=1.0):
    days, vals = zip(*points)
    dates = START + pd.to_timedelta(list(days), unit="D")
    return dates, [v * scale for v in vals]


W, H = 3655, 2491
fig = go.Figure()

for style, pts in TOP_SERIES:
    x, y = to_xy(pts)
    fig.add_trace(go.Scatter(x=x, y=y, mode="lines", line=dict(shape="spline", smoothing=0.8, **STYLES[style]),
                             xaxis="x", yaxis="y", showlegend=False, hoverinfo="skip"))

for style, pts in BOTTOM_SERIES:
    x, y = to_xy(pts, scale=0.001)  # g/kg -> kg/kg
    fig.add_trace(go.Scatter(x=x, y=y, mode="lines", line=dict(shape="spline", smoothing=0.8, **STYLES[style]),
                             xaxis="x2", yaxis="y2", showlegend=False, hoverinfo="skip"))

tick_font = dict(family=FONT, size=45, color="black", weight="bold")
x_range = [START, START + pd.Timedelta(days=END_DAY)]
tick_dates = [START + pd.Timedelta(days=d) for d in TICK_DAYS]

frame = dict(showline=True, mirror=True, linecolor="black", linewidth=4, showgrid=False,
             zeroline=False, ticks="", tickfont=tick_font, fixedrange=True, automargin=False)


def px_x(v):
    return v / W


def px_y(v):
    return 1 - v / H


fig.update_layout(
    width=W, height=H, autosize=False,
    margin=dict(l=0, r=0, t=0, b=0, pad=0),
    paper_bgcolor="white", plot_bgcolor="white",
    showlegend=False,
    xaxis=dict(frame, domain=[px_x(193), px_x(3562)], range=x_range, tickvals=tick_dates,
               ticktext=TICK_LABELS, anchor="y", ticklabelstandoff=28),
    yaxis=dict(frame, domain=[px_y(848), px_y(40)], range=[0, 50], tickvals=T_TICKS,
               anchor="x", ticklabelstandoff=30),
    xaxis2=dict(frame, domain=[px_x(266), px_x(3633)], range=x_range, tickvals=tick_dates,
                ticktext=TICK_LABELS, anchor="y2", ticklabelstandoff=28),
    yaxis2=dict(frame, domain=[px_y(2127), px_y(1305)], range=[0, 0.04], tickvals=H_TICKS,
                ticktext=H_TICK_LABELS, anchor="x2", ticklabelstandoff=30),
)

title_font = dict(family=FONT, size=54, color="black", weight="bold")
label_font = dict(family=FONT, size=66, color="black")
annotations = [
    dict(text="Air temperature, T [°C]", x=px_x(50), y=px_y(424), textangle=-90, font=title_font),
    dict(text="Date", x=px_x(1772), y=px_y(998), font=title_font),
    dict(text="(<b>a</b>)", x=px_x(1877), y=px_y(1170), font=label_font),
    dict(text="Air humidity, x [kg kg<sup>-1</sup>]", x=px_x(50), y=px_y(1728), textangle=-90,
         font=title_font),
    dict(text="Date", x=px_x(1772), y=px_y(2284), font=title_font),
    dict(text="(<b>b</b>)", x=px_x(1877), y=px_y(2440), font=label_font),
]
for a in annotations:
    fig.add_annotation(xref="paper", yref="paper", showarrow=False, xanchor="center",
                       yanchor="middle", **a)

fig.write_html("out.html", config={"displayModeBar": False},
               post_script="document.body.style.margin='0px';")
